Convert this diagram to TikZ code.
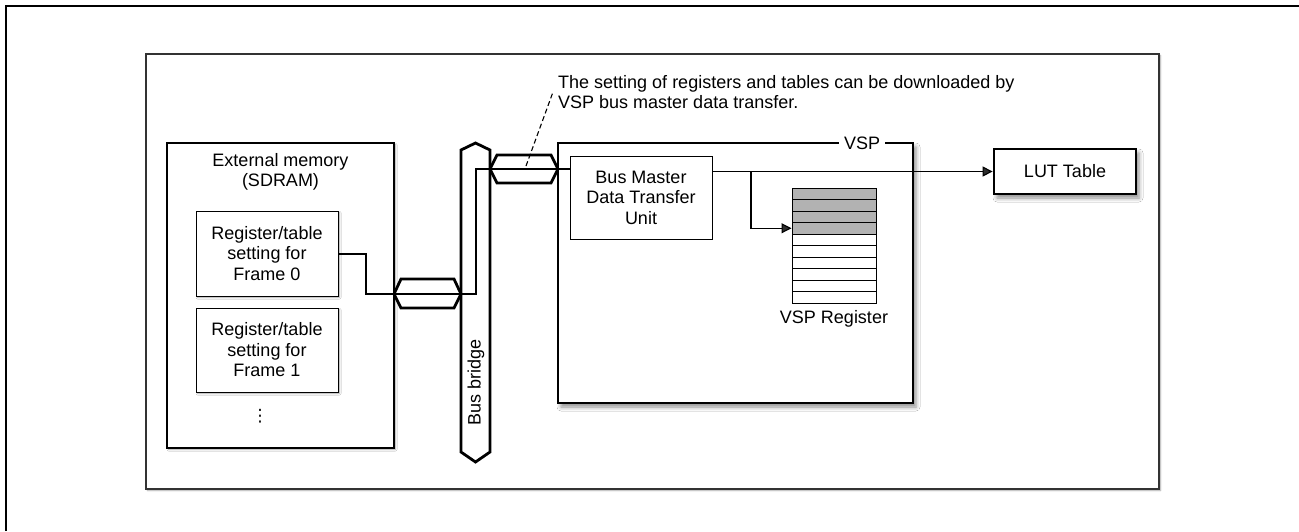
\documentclass[tikz,border=0pt]{standalone}
\usepackage{fontspec}
\setmainfont{Liberation Sans}
\newfontfamily\dejavu{DejaVu Sans}
\usetikzlibrary{shadows.blur, arrows.meta}
\begin{document}
\begin{tikzpicture}[x=1pt,y=-1pt, font=\fontsize{18}{20.5}\selectfont,
 thickbox/.style={draw, line width=2.8pt, fill=white, inner sep=0pt},
 thinbox/.style={draw, line width=1pt, fill=white, align=center, inner sep=0pt},
 wire/.style={line width=1.1pt},
 arr/.style={wire, -{Triangle[length=10pt,width=10pt]}},
 busshape/.style={draw, line width=2.8pt, fill=white, line join=miter},
 shadowbig/.style={blur shadow={shadow xshift=3pt, shadow yshift=-4pt, shadow blur radius=4pt, shadow opacity=45}},
 shadowsmall/.style={blur shadow={shadow xshift=1.5pt, shadow yshift=-1.5pt, shadow blur radius=1.5pt, shadow opacity=35}},
 regrow/.style={draw, line width=1pt, minimum width=84pt, minimum height=11.5pt, inner sep=0pt}
]
\useasboundingbox (0,0) rectangle (1299,531);
% outer frame (partial)
\draw[line width=2pt] (6,531) -- (6,6) -- (1299,6);
% inner frame
\draw[line width=1.3pt, draw=black!80, fill=white, shadowsmall] (146,54) rectangle (1159,489);

% external memory
\node[thickbox, shadowsmall, minimum width=227pt, minimum height=305pt] (ext) at (280.5,295.5) {};
\node[align=center] (extlbl) at (280.5,172) {External memory\\(SDRAM)};
\node[thinbox, shadowsmall, minimum width=142pt, minimum height=85pt] (f0) at (267,253.5) {Register/table\\setting for\\Frame 0};
\node[thinbox, shadowsmall, minimum width=142pt, minimum height=84pt] (f1) at (267,350) {Register/table\\setting for\\Frame 1};
\node[font=\dejavu\fontsize{17}{17}\selectfont, inner sep=0pt] (dots) at (260,416) {⋮};

% bus bridge
\draw[busshape] (461,150) -- (475.5,143) -- (490,150) -- (490,452) -- (475.5,462) -- (461,452) -- cycle;
\node[rotate=90] (bblbl) at (476,382) {Bus bridge};
% hexagon connectors
\draw[busshape] (394,294) -- (401,279) -- (454,279) -- (461,294) -- (454,308) -- (401,308) -- cycle;
\draw[busshape] (490,169) -- (497,155) -- (551,155) -- (558,169) -- (551,183) -- (497,183) -- cycle;

% VSP
\node[thickbox, shadowbig, minimum width=355pt, minimum height=260pt] (vsp) at (735.5,273) {};
\node[fill=white, inner sep=5pt] (vsplbl) at (862,143) {VSP};
\node[thinbox, minimum width=142pt, minimum height=83pt] (bm) at (641,197.5) {Bus Master\\Data Transfer\\Unit};

% register
\foreach \i in {1,...,10} {
  \ifnum\i<5
    \node[regrow, fill=black!30] (r\i) at (834,{188+5.75+(\i-1)*11.5}) {};
  \else
    \node[regrow, fill=white] (r\i) at (834,{188+5.75+(\i-1)*11.5}) {};
  \fi
}
\node (reglbl) at (834,319) {VSP Register};

% LUT
\node[thickbox, shadowbig, minimum width=142pt, minimum height=45pt] (lut) at (1065,171.5) {LUT Table};

% connectors
\coordinate (a1) at (366,254);
\coordinate (a2) at (476,294);
\coordinate (a3) at (476,169);
\draw[wire] (f0.east |- a1) -- (a1) |- (a2) -- (a3) -- (a3 -| bm.west);
\coordinate (br) at (751,171.5);
\draw[arr] (bm.east |- lut.west) -- (lut.west);
\draw[arr] (br) |- (r4.west);

% annotation
\node[anchor=north west, inner sep=0pt, align=left] (note) at (558,75) {The setting of registers and tables can be downloaded by\\VSP bus master data transfer.};
\coordinate (l1) at (526,166);
\coordinate (l2) at (553,92);
\draw[wire, dash pattern=on 5pt off 3pt] (l1) -- (l2);
\end{tikzpicture}
\end{document}
